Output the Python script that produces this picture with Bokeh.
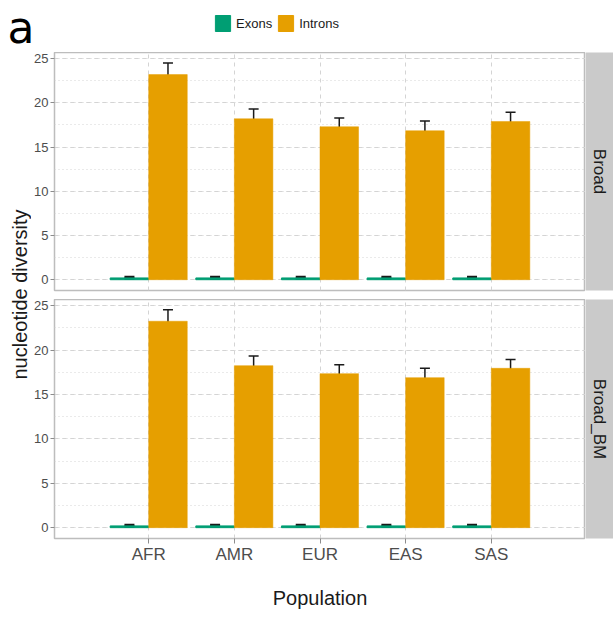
import numpy as np
from bokeh.plotting import figure
from bokeh.models import (Range1d, FactorRange, Whisker, TeeHead, ColumnDataSource,
                          Label, Legend, LegendItem, SingleIntervalTicker)
from bokeh.transform import dodge
from bokeh.layouts import column, row
from bokeh.embed import file_html
from bokeh.resources import INLINE

# ---------------- data ----------------
populations = ["AFR", "AMR", "EUR", "EAS", "SAS"]
series = ["Exons", "Introns"]
panel_names = ["Broad", "Broad_BM"]

broad_exons = [0.2, 0.2, 0.2, 0.2, 0.2]
broad_exons_lo = [0.1, 0.1, 0.1, 0.1, 0.1]
broad_exons_hi = [0.3, 0.3, 0.3, 0.3, 0.3]
broad_introns = [23.2, 18.2, 17.3, 16.85, 17.9]
broad_introns_lo = [21.9, 17.2, 16.3, 15.9, 16.85]
broad_introns_hi = [24.5, 19.3, 18.3, 17.95, 18.95]

bm_exons = [0.2, 0.2, 0.2, 0.2, 0.2]
bm_exons_lo = [0.1, 0.1, 0.1, 0.1, 0.1]
bm_exons_hi = [0.3, 0.3, 0.3, 0.3, 0.3]
bm_introns = [23.25, 18.25, 17.35, 16.9, 17.95]
bm_introns_lo = [21.9, 17.25, 16.35, 15.9, 16.85]
bm_introns_hi = [24.55, 19.35, 18.35, 17.95, 18.95]

y_ticks_interval = 5

# ---------------- style ----------------
EXON = "#009E73"
INTRON = "#E69F00"
FONT = "Liberation Sans"
GRID = "#d4d4d4"

W_TOTAL = 613
W_LAB = 31
W_STRIP = 28
FRAME_LEFT = 53
P1_H = 238
GAP = 9
P2_H = 239
BOTTOM = 78
HEADER_H = 52

x_range = FactorRange(factors=populations, range_padding=0.24)


def make_panel(exons, ex_lo, ex_hi, introns, in_lo, in_hi, show_x):
    src = ColumnDataSource(dict(pop=populations, exons=exons, ex_lo=ex_lo, ex_hi=ex_hi,
                                introns=introns, in_lo=in_lo, in_hi=in_hi))
    height = (P2_H + BOTTOM) if show_x else (P1_H + GAP)
    p = figure(x_range=x_range, y_range=Range1d(-1.22, 25.7),
               width=W_TOTAL - W_LAB - W_STRIP, height=height,
               min_border_left=FRAME_LEFT - W_LAB, min_border_right=0, min_border_top=0,
               min_border_bottom=BOTTOM if show_x else GAP,
               output_backend="svg", toolbar_location=None)
    p.background_fill_color = "white"
    p.border_fill_color = "white"
    p.outline_line_color = "#bdbdbd"
    p.outline_line_width = 1.5

    p.vbar(x=dodge("pop", -0.225, range=x_range), top="exons", bottom=0, width=0.45,
           source=src, fill_color=EXON, line_color=EXON, line_width=1)
    p.vbar(x=dodge("pop", 0.225, range=x_range), top="introns", bottom=0, width=0.45,
           source=src, fill_color=INTRON, line_color=INTRON, line_width=0.5)

    for base, lo, hi, lw in [(-0.225, "ex_lo", "ex_hi", 2.5), (0.225, "in_lo", "in_hi", 1.5)]:
        w = Whisker(base=dodge("pop", base, range=x_range), lower=lo, upper=hi, source=src,
                    line_color="#1a1a1a", line_width=1.5,
                    upper_head=TeeHead(size=10, line_width=lw, line_color="#1a1a1a"),
                    lower_head=TeeHead(size=10, line_width=lw, line_color="#1a1a1a"))
        p.add_layout(w)

    ticker = SingleIntervalTicker(interval=y_ticks_interval, num_minor_ticks=2)
    p.yaxis.ticker = ticker
    p.ygrid.ticker = ticker
    p.ygrid.grid_line_color = GRID
    p.ygrid.grid_line_dash = "4 4"
    p.ygrid.grid_line_width = 1
    p.ygrid.minor_grid_line_color = GRID
    p.ygrid.minor_grid_line_dash = "1 3"
    p.xgrid.grid_line_color = GRID
    p.xgrid.grid_line_dash = "4 4"

    for ax in (p.xaxis, p.yaxis):
        ax.axis_line_color = None
        ax.major_tick_line_color = "#8c8c8c"
        ax.major_tick_in = 0
        ax.minor_tick_line_color = None
        ax.major_label_text_color = "#4d4d4d"
        ax.major_label_text_font = FONT
    p.yaxis.major_tick_out = 4
    p.yaxis.major_label_standoff = 2
    p.yaxis.major_label_text_font_size = "13px"

    if show_x:
        p.xaxis.major_tick_out = 5
        p.xaxis.major_label_standoff = 1
        p.xaxis.major_label_text_font_size = "17px"
        p.xaxis.axis_label = "Population"
        p.xaxis.axis_label_text_font = FONT
        p.xaxis.axis_label_text_font_size = "20px"
        p.xaxis.axis_label_text_font_style = "normal"
        p.xaxis.axis_label_text_color = "#1a1a1a"
        p.xaxis.axis_label_standoff = 20
    else:
        p.xaxis.visible = False
    return p


def make_strip(name, height, bottom):
    s = figure(width=W_STRIP, height=height, x_range=Range1d(0, 1), y_range=Range1d(0, 1),
               x_axis_location=None, y_axis_location=None, min_border=0,
               min_border_bottom=bottom, output_backend="svg", toolbar_location=None)
    s.grid.visible = False
    s.background_fill_color = "#cacaca"
    s.border_fill_color = "white"
    s.outline_line_color = None
    s.add_layout(Label(x=0.5, y=0.5, text=name, angle=-np.pi / 2, text_align="center",
                       text_baseline="middle", text_font=FONT, text_font_size="17px",
                       text_color="#1a1a1a"))
    return s


p1 = make_panel(broad_exons, broad_exons_lo, broad_exons_hi,
                broad_introns, broad_introns_lo, broad_introns_hi, False)
p2 = make_panel(bm_exons, bm_exons_lo, bm_exons_hi,
                bm_introns, bm_introns_lo, bm_introns_hi, True)
s1 = make_strip(panel_names[0], P1_H + GAP, GAP)
s2 = make_strip(panel_names[1], P2_H + BOTTOM, BOTTOM)

# y title spanning both panels
ylab_h = P1_H + GAP + P2_H + BOTTOM
ylab = figure(width=W_LAB, height=ylab_h, x_axis_location=None, y_axis_location=None,
              min_border=0, output_backend="svg", toolbar_location=None)
ylab.grid.visible = False
ylab.outline_line_color = None
ylab.add_layout(Label(x=19.5, y=ylab_h - (294 - HEADER_H), x_units="screen", y_units="screen",
                      text="nucleotide diversity", angle=np.pi / 2, text_align="center",
                      text_baseline="middle", text_font=FONT, text_font_size="20px",
                      text_color="#1a1a1a"))

# header with panel letter and legend
header = figure(width=W_TOTAL, height=HEADER_H, x_range=Range1d(0, 1), y_range=Range1d(0, 1),
                x_axis_location=None, y_axis_location=None, min_border=0,
                output_backend="svg", toolbar_location=None)
header.grid.visible = False
header.outline_line_color = None
header.add_layout(Label(x=7, y=HEADER_H - 27, x_units="screen", y_units="screen", text="a",
                        text_font="DejaVu Sans", text_font_size="44px", text_color="black",
                        text_baseline="middle"))
# legend key proxies (no visible data of their own)
k_ex = header.vbar(x=[np.nan], top=[np.nan], width=0.5, fill_color=EXON, line_color=EXON)
k_in = header.vbar(x=[np.nan], top=[np.nan], width=0.5, fill_color=INTRON, line_color=INTRON)
legend = Legend(items=[LegendItem(label=series[0], renderers=[k_ex]),
                       LegendItem(label=series[1], renderers=[k_in])],
                location=(213, HEADER_H - 33), orientation="horizontal", padding=0, margin=0,
                spacing=4, label_standoff=4, glyph_width=19, glyph_height=20,
                label_height=20, label_text_font=FONT, label_text_font_size="13px",
                label_text_color="#1a1a1a", border_line_color=None,
                background_fill_alpha=0)
header.add_layout(legend)

layout = column(header, row(ylab, column(row(p1, s1), row(p2, s2))))

open("out.html", "w").write(file_html(layout, INLINE))
